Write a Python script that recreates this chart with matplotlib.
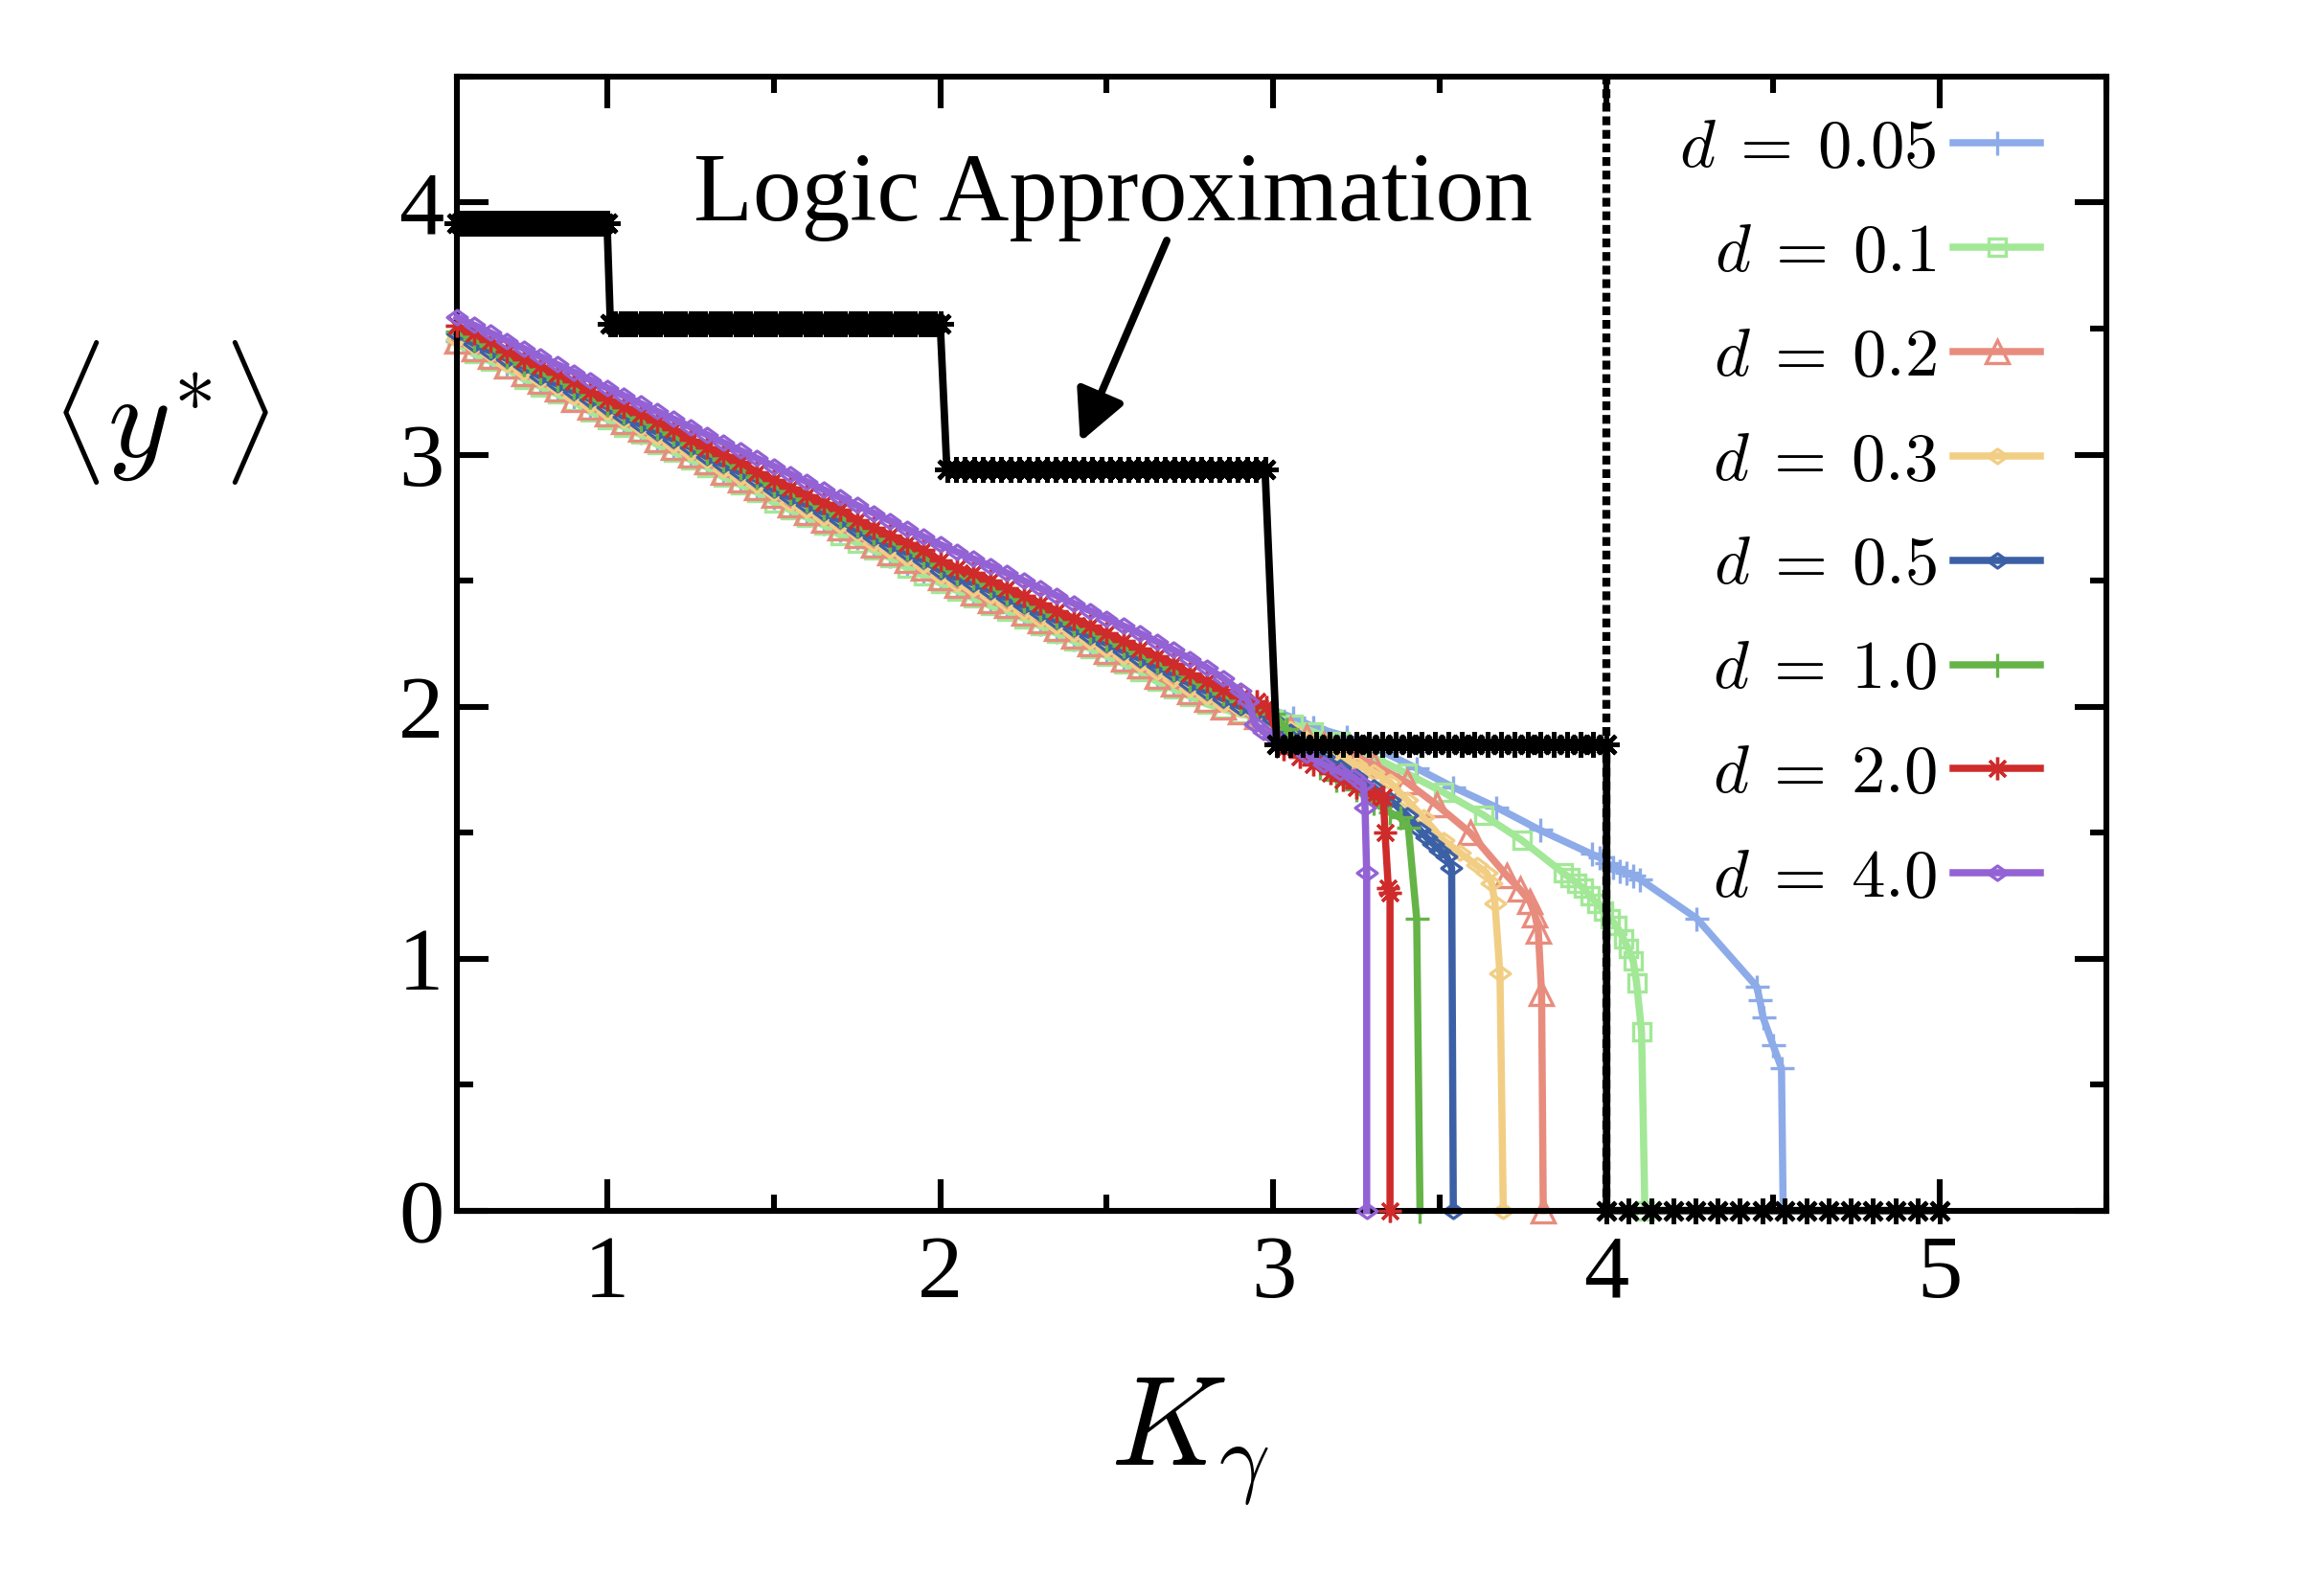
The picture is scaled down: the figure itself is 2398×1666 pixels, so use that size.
import numpy as np
import matplotlib
matplotlib.use("Agg")
import matplotlib.pyplot as plt
from matplotlib.ticker import MultipleLocator
from matplotlib.path import Path

# ---------------- data ----------------
d_labels = ["0.05", "0.1", "0.2", "0.3", "0.5", "1.0", "2.0", "4.0"]

# common K grid of the dense part of every curve
k_body = [0.55, 0.60, 0.65, 0.70, 0.75, 0.80, 0.85, 0.90, 0.95, 1.00,
          1.05, 1.10, 1.15, 1.20, 1.25, 1.30, 1.35, 1.40, 1.45, 1.50,
          1.55, 1.60, 1.65, 1.70, 1.75, 1.80, 1.85, 1.90, 1.95, 2.00,
          2.05, 2.10, 2.15, 2.20, 2.25, 2.30, 2.35, 2.40, 2.45, 2.50,
          2.55, 2.60, 2.65, 2.70, 2.75, 2.80, 2.85, 2.90]

y_body_d005 = [3.45, 3.42, 3.39, 3.36, 3.32, 3.29, 3.26, 3.22, 3.19, 3.16,
               3.13, 3.09, 3.06, 3.03, 3.00, 2.96, 2.93, 2.90, 2.86, 2.83,
               2.80, 2.77, 2.73, 2.70, 2.67, 2.64, 2.60, 2.57, 2.54, 2.50,
               2.47, 2.45, 2.42, 2.39, 2.36, 2.33, 2.30, 2.27, 2.24, 2.21,
               2.18, 2.15, 2.12, 2.09, 2.07, 2.05, 2.035, 2.02]
k_tail_d005 = [2.95, 3.00, 3.06, 3.12, 3.22, 3.33, 3.43, 3.54, 3.67, 3.80,
               3.955, 3.98, 4.00, 4.02, 4.04, 4.06, 4.08, 4.10, 4.27, 4.45,
               4.46, 4.47, 4.50, 4.525, 4.53]
y_tail_d005 = [2.005, 1.985, 1.955, 1.92, 1.88, 1.82, 1.755, 1.68, 1.60, 1.51,
               1.415, 1.40, 1.38, 1.365, 1.35, 1.34, 1.33, 1.315, 1.16, 0.89,
               0.835, 0.765, 0.655, 0.565, 0.0]

y_body_d01 = [3.44, 3.40, 3.37, 3.34, 3.30, 3.27, 3.24, 3.21, 3.17, 3.14,
              3.11, 3.08, 3.04, 3.01, 2.98, 2.95, 2.91, 2.88, 2.85, 2.81,
              2.78, 2.75, 2.72, 2.68, 2.65, 2.62, 2.59, 2.55, 2.52, 2.49,
              2.46, 2.43, 2.40, 2.38, 2.35, 2.32, 2.29, 2.26, 2.23, 2.20,
              2.17, 2.14, 2.10, 2.07, 2.04, 2.01, 1.99, 1.97]
k_tail_d01 = [2.95, 3.00, 3.06, 3.12, 3.20, 3.30, 3.40, 3.51, 3.63, 3.745,
              3.87, 3.89, 3.91, 3.93, 3.95, 3.97, 3.99, 4.01, 4.03, 4.05,
              4.065, 4.08, 4.09, 4.105, 4.115]
y_tail_d01 = [1.96, 1.95, 1.93, 1.90, 1.86, 1.80, 1.735, 1.66, 1.57, 1.47,
              1.34, 1.32, 1.30, 1.28, 1.25, 1.22, 1.19, 1.16, 1.13, 1.08,
              1.04, 0.99, 0.905, 0.71, 0.0]

y_body_d02 = [3.45, 3.42, 3.39, 3.35, 3.32, 3.29, 3.26, 3.22, 3.19, 3.16,
              3.13, 3.10, 3.06, 3.03, 3.00, 2.97, 2.93, 2.90, 2.87, 2.84,
              2.80, 2.77, 2.74, 2.71, 2.68, 2.64, 2.61, 2.58, 2.55, 2.51,
              2.48, 2.45, 2.42, 2.40, 2.37, 2.34, 2.31, 2.28, 2.25, 2.22,
              2.19, 2.16, 2.12, 2.09, 2.06, 2.03, 2.00, 1.98]
k_tail_d02 = [2.95, 3.00, 3.05, 3.10, 3.15, 3.20, 3.25, 3.30, 3.40, 3.49,
              3.59, 3.70, 3.74, 3.77, 3.785, 3.795, 3.805, 3.81]
y_tail_d02 = [1.96, 1.94, 1.91, 1.88, 1.85, 1.82, 1.80, 1.77, 1.70, 1.61,
              1.50, 1.33, 1.275, 1.225, 1.175, 1.11, 0.86, 0.0]

y_body_d03 = [3.46, 3.43, 3.40, 3.36, 3.33, 3.30, 3.27, 3.23, 3.20, 3.17,
              3.14, 3.11, 3.07, 3.04, 3.01, 2.98, 2.94, 2.91, 2.88, 2.85,
              2.81, 2.78, 2.75, 2.72, 2.69, 2.65, 2.62, 2.59, 2.56, 2.52,
              2.49, 2.47, 2.44, 2.41, 2.38, 2.35, 2.32, 2.29, 2.26, 2.23,
              2.20, 2.17, 2.14, 2.11, 2.07, 2.04, 2.01, 1.99]
k_tail_d03 = [2.95, 3.00, 3.05, 3.10, 3.15, 3.20, 3.25, 3.30, 3.35, 3.40,
              3.45, 3.51, 3.56, 3.61, 3.64, 3.655, 3.665, 3.68, 3.69]
y_tail_d03 = [1.97, 1.95, 1.91, 1.87, 1.83, 1.80, 1.77, 1.74, 1.70, 1.63,
              1.56, 1.47, 1.42, 1.37, 1.34, 1.30, 1.22, 0.94, 0.0]

y_body_d05 = [3.48, 3.44, 3.41, 3.38, 3.35, 3.31, 3.28, 3.25, 3.22, 3.19,
              3.15, 3.12, 3.09, 3.06, 3.03, 2.99, 2.96, 2.93, 2.90, 2.86,
              2.83, 2.80, 2.77, 2.74, 2.70, 2.67, 2.64, 2.61, 2.58, 2.54,
              2.51, 2.49, 2.46, 2.43, 2.40, 2.37, 2.34, 2.31, 2.28, 2.25,
              2.22, 2.19, 2.16, 2.13, 2.09, 2.06, 2.03, 2.00]
k_tail_d05 = [2.95, 3.00, 3.05, 3.10, 3.15, 3.20, 3.25, 3.30, 3.35, 3.40,
              3.44, 3.46, 3.48, 3.50, 3.52, 3.535, 3.54]
y_tail_d05 = [1.98, 1.95, 1.90, 1.84, 1.80, 1.76, 1.72, 1.68, 1.63, 1.57,
              1.51, 1.48, 1.455, 1.43, 1.405, 1.36, 0.0]

y_body_d10 = [3.49, 3.46, 3.43, 3.39, 3.36, 3.33, 3.30, 3.27, 3.23, 3.20,
              3.17, 3.14, 3.11, 3.08, 3.04, 3.01, 2.98, 2.95, 2.91, 2.88,
              2.85, 2.82, 2.79, 2.76, 2.72, 2.69, 2.66, 2.63, 2.60, 2.56,
              2.53, 2.51, 2.48, 2.45, 2.42, 2.39, 2.36, 2.33, 2.30, 2.27,
              2.24, 2.21, 2.18, 2.15, 2.11, 2.08, 2.05, 2.02]
k_tail_d10 = [2.95, 3.00, 3.04, 3.08, 3.14, 3.19, 3.25, 3.30, 3.35, 3.38,
              3.405, 3.43, 3.44]
y_tail_d10 = [2.00, 1.97, 1.91, 1.83, 1.76, 1.71, 1.67, 1.62, 1.58, 1.56,
              1.52, 1.16, 0.0]

y_body_d20 = [3.51, 3.48, 3.45, 3.41, 3.38, 3.35, 3.32, 3.29, 3.25, 3.22,
              3.19, 3.16, 3.13, 3.10, 3.06, 3.03, 3.00, 2.97, 2.93, 2.90,
              2.87, 2.84, 2.81, 2.78, 2.74, 2.71, 2.68, 2.65, 2.62, 2.58,
              2.55, 2.53, 2.50, 2.47, 2.44, 2.41, 2.38, 2.35, 2.32, 2.29,
              2.26, 2.23, 2.20, 2.17, 2.13, 2.10, 2.065, 2.035]
k_tail_d20 = [2.95, 2.98, 3.03, 3.08, 3.12, 3.17, 3.21, 3.25, 3.30, 3.33,
              3.335, 3.345, 3.35, 3.35]
y_tail_d20 = [2.02, 2.00, 1.83, 1.80, 1.77, 1.735, 1.71, 1.68, 1.65, 1.64,
              1.50, 1.28, 1.26, 0.0]

y_body_d40 = [3.545, 3.514, 3.483, 3.452, 3.421, 3.389, 3.358, 3.327, 3.296, 3.265,
              3.234, 3.203, 3.172, 3.141, 3.110, 3.079, 3.047, 3.016, 2.985, 2.954,
              2.923, 2.892, 2.861, 2.830, 2.799, 2.768, 2.737, 2.705, 2.674, 2.643,
              2.614, 2.586, 2.558, 2.530, 2.500, 2.470, 2.440, 2.410, 2.380, 2.350,
              2.320, 2.290, 2.258, 2.225, 2.190, 2.155, 2.112, 2.062]
k_tail_d40 = [2.925, 2.945, 2.97, 3.00, 3.05, 3.10, 3.15, 3.20, 3.24, 3.27,
              3.275, 3.28, 3.28]
y_tail_d40 = [2.02, 1.93, 1.90, 1.88, 1.85, 1.81, 1.77, 1.74, 1.72, 1.69,
              1.60, 1.34, 0.0]

# "Logic Approximation": piecewise-constant levels and their K ranges
logic_levels = [3.92, 3.52, 2.94, 1.85, 0.0]
logic_k_start = [0.55, 1.01, 2.02, 3.01, 4.00]
logic_k_end = [1.00, 2.00, 2.975, 4.00, 5.00]
logic_samples = [46, 67, 36, 26, 16]
k_threshold = 4.0

# ---------------- style ----------------
plt.rcParams["font.family"] = ["Liberation Serif", "DejaVu Serif"]
plt.rcParams["mathtext.fontset"] = "cm"

colors = ["#8dabe9", "#a2e897", "#e88c7e", "#f1ce84",
          "#3c60a6", "#65b448", "#cf2b2b", "#9362d4"]
wide_diamond = Path([(-1, 0), (0, 0.72), (1, 0), (0, -0.72), (-1, 0)],
                    [Path.MOVETO, Path.LINETO, Path.LINETO, Path.LINETO, Path.CLOSEPOLY])
asterisk = (8, 2, 0)
markers = ["+", "s", "^", wide_diamond, wide_diamond, "+", asterisk, wide_diamond]
msizes = [9, 6.5, 8.5, 7.5, 7.5, 9, 8.5, 7.5]

bodies = [y_body_d005, y_body_d01, y_body_d02, y_body_d03,
          y_body_d05, y_body_d10, y_body_d20, y_body_d40]
tails_k = [k_tail_d005, k_tail_d01, k_tail_d02, k_tail_d03,
           k_tail_d05, k_tail_d10, k_tail_d20, k_tail_d40]
tails_y = [y_tail_d005, y_tail_d01, y_tail_d02, y_tail_d03,
           y_tail_d05, y_tail_d10, y_tail_d20, y_tail_d40]

fig = plt.figure(figsize=(11.99, 8.33), dpi=200)
ax = fig.add_axes([0.199, 0.2415, 0.718, 0.7105])

for i, lab in enumerate(d_labels):
    kx = list(k_body) + list(tails_k[i])
    ky = list(bodies[i]) + list(tails_y[i])
    ax.plot(kx, ky, color=colors[i], lw=2.7, marker=markers[i], ms=msizes[i],
            mfc="none", mec=colors[i], mew=1.2, clip_on=False, zorder=2 + i * 0.1,
            label=r"$d\:=\:%s$" % lab)

# threshold reference line
ax.axvline(k_threshold, color="black", lw=3.0, ls=(0, (1.1, 0.6)), zorder=4)

# logic approximation steps
lk, ly = [], []
for lev, a, b, n in zip(logic_levels, logic_k_start, logic_k_end, logic_samples):
    seg = np.linspace(a, b, n)
    lk.extend(seg)
    ly.extend([lev] * n)
ax.plot(lk, ly, color="black", lw=2.8, marker=asterisk, ms=9.5, mew=1.6,
        clip_on=False, zorder=6)

ax.text(1.26, 3.93, "Logic Approximation", fontsize=36.5, ha="left", va="baseline")
ax.annotate("", xy=(2.42, 3.05), xytext=(2.68, 3.85),
            arrowprops=dict(arrowstyle="-|>", color="black", lw=2.8,
                            mutation_scale=40, shrinkA=0, shrinkB=0))

ax.set_xlim(0.55, 5.5)
ax.set_ylim(0, 4.5)
ax.xaxis.set_major_locator(MultipleLocator(1))
ax.xaxis.set_minor_locator(MultipleLocator(0.5))
ax.yaxis.set_major_locator(MultipleLocator(1))
ax.yaxis.set_minor_locator(MultipleLocator(0.5))
ax.tick_params(which="both", direction="in", top=True, right=True, width=2.2,
               labelsize=34)
ax.tick_params(which="major", length=12)
ax.tick_params(which="minor", length=6)
ax.tick_params(axis="x", pad=9)
ax.tick_params(axis="y", pad=5)
for sp in ax.spines.values():
    sp.set_linewidth(2.2)

ax.set_xlabel(r"$K_{\gamma}$", fontsize=48, va="baseline")
ax.xaxis.set_label_coords(0.444, -0.2245)
ax.set_ylabel(r"$\langle y^{*}\rangle$", fontsize=45, rotation=0,
              ha="center", va="center")
ax.yaxis.set_label_coords(-0.18, 0.704)

ax.legend(loc="upper right", bbox_to_anchor=(0.960, 0.963), markerfirst=False,
          frameon=False, fontsize=25.5, handlelength=1.28, handletextpad=0.25,
          labelspacing=0.62, borderaxespad=0.0, borderpad=0.0, numpoints=1)

fig.savefig("out.png", dpi=200)
